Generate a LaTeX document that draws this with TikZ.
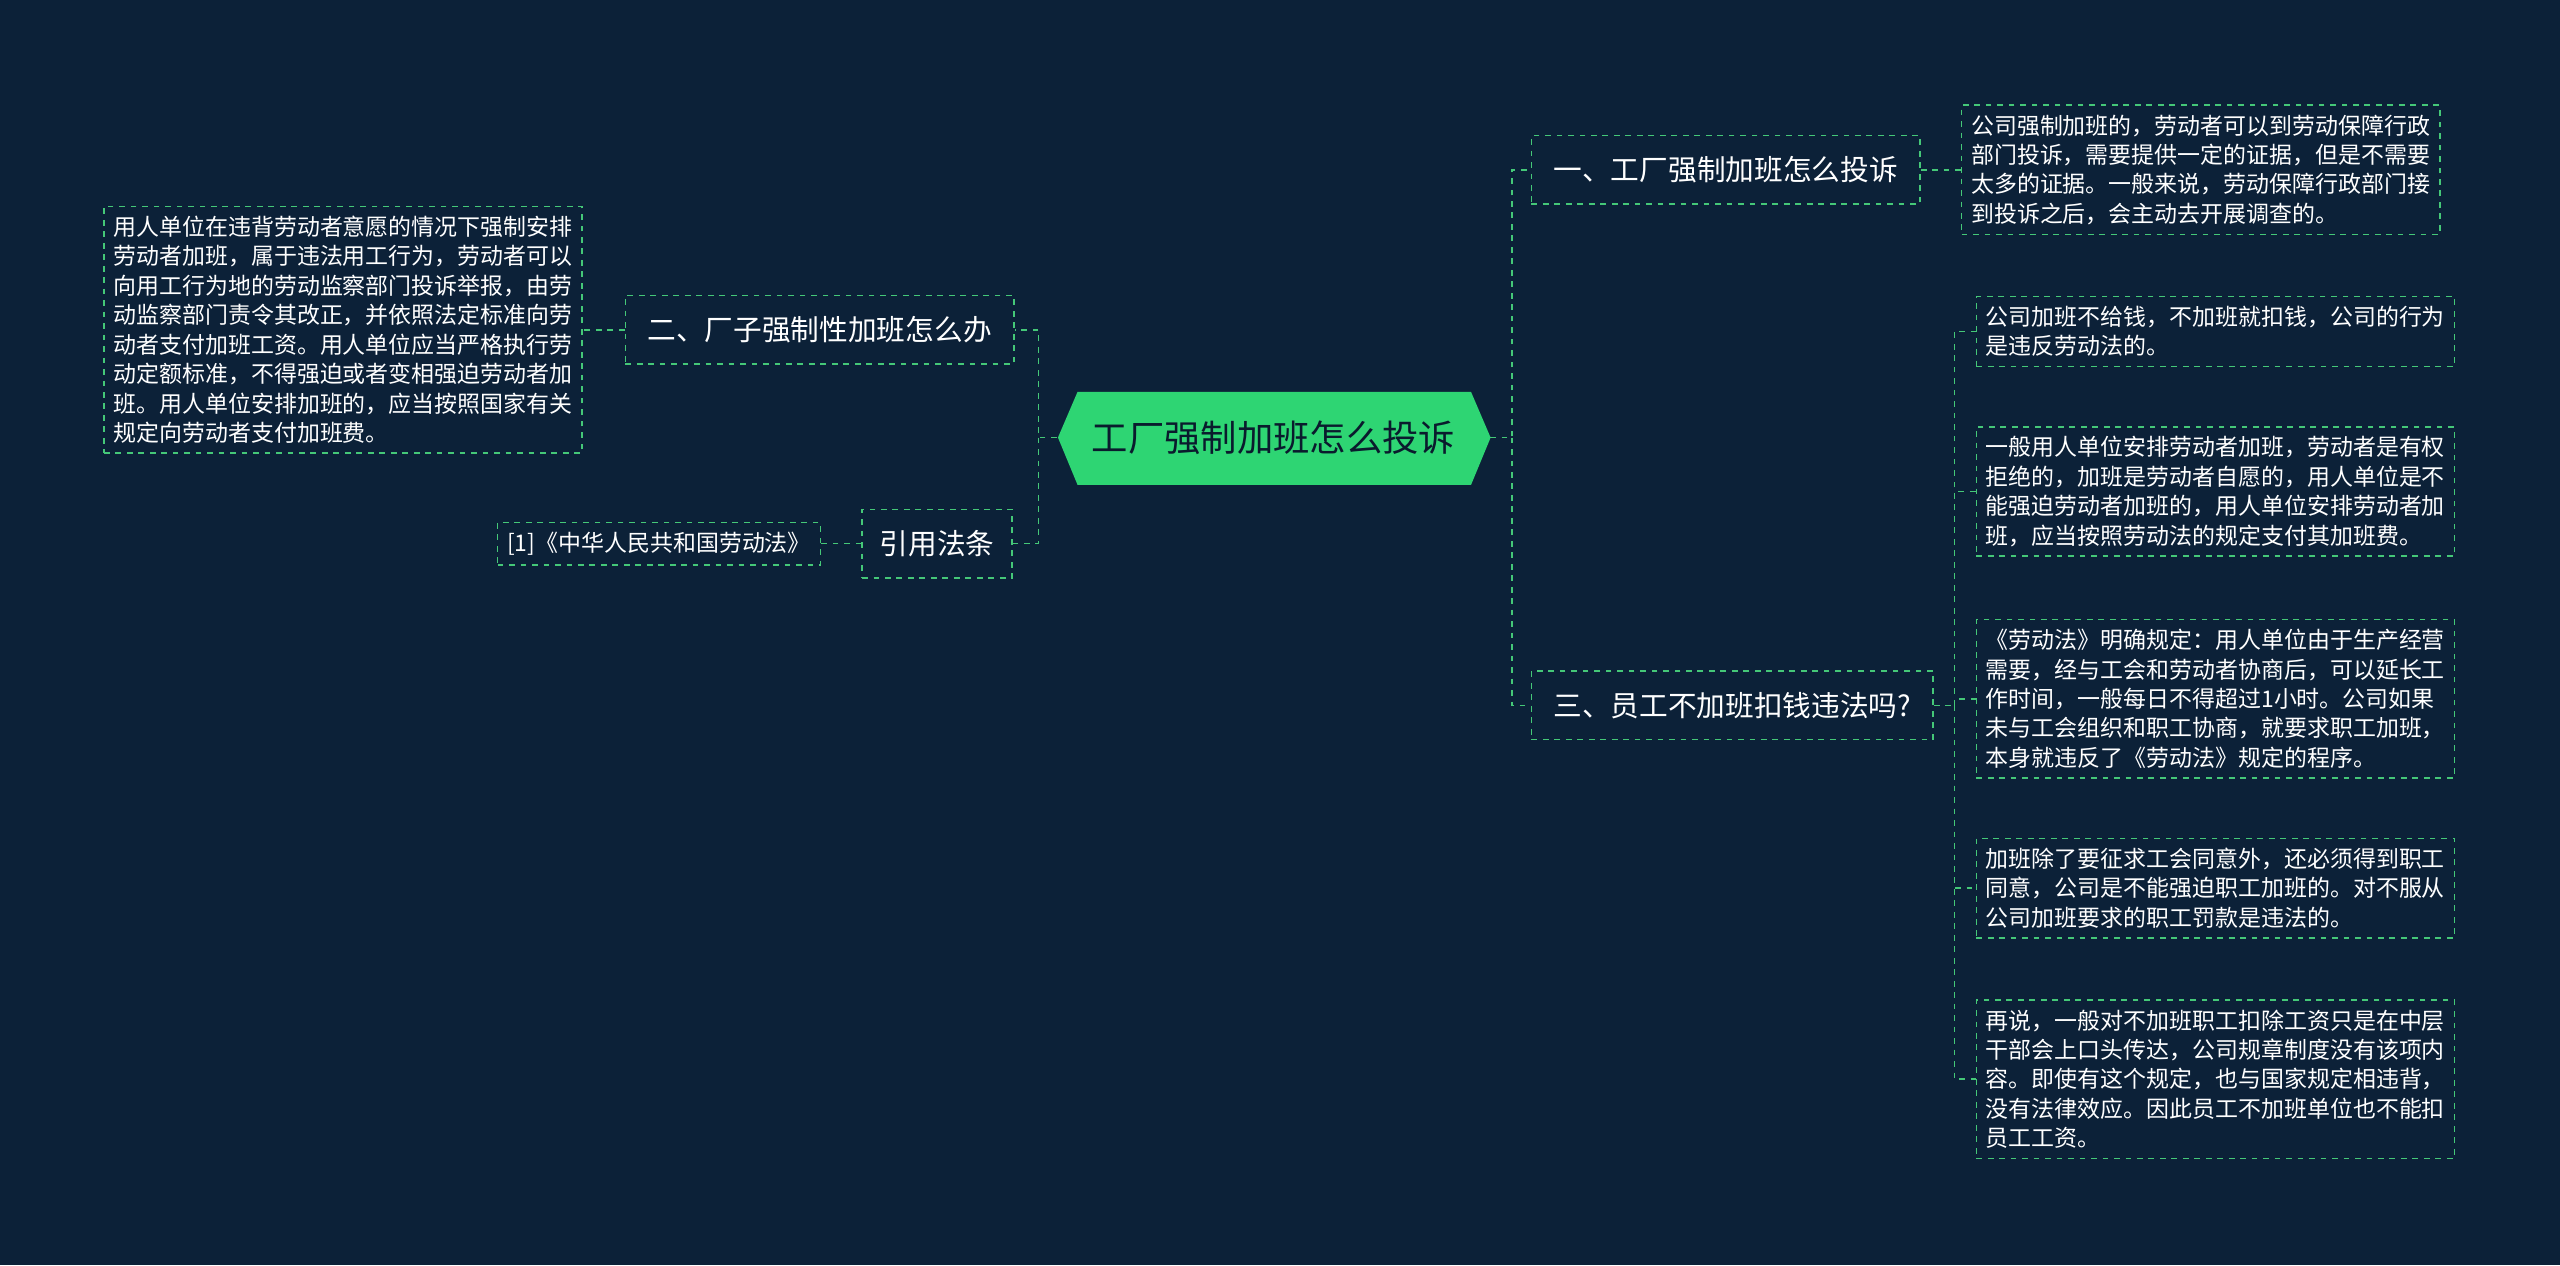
\documentclass[tikz,border=0pt]{standalone}
\usepackage{fontspec}
\newfontfamily\cjk{Noto Sans CJK SC}
\usetikzlibrary{calc}
\definecolor{bg}{HTML}{0C2138}
\definecolor{ln}{HTML}{45C878}
\definecolor{hub}{HTML}{2ED573}
\tikzset{
 x=0.03cm,y=-0.03cm,
 br/.style={draw=ln,dashed,line width=0.8pt,text=white,font=\cjk\fontsize{15}{18}\selectfont,inner sep=0pt,minimum height=1.26cm,align=center},
 dt/.style={draw=ln,dashed,line width=0.8pt,text=white,font=\cjk\fontsize{12}{15.4}\selectfont,inner xsep=5pt,inner ysep=5pt,align=left,anchor=west},
 cn/.style={draw=ln,dashed,line width=0.8pt},
}
\begin{document}
\begin{tikzpicture}
\fill[bg] (0,0) rectangle (1568,775);
\useasboundingbox (0,0) rectangle (1568,775);
% hub
\fill[hub] (648,268)--(660,240)--(901,240)--(913,268)--(901,297)--(660,297)--cycle;
\node[font=\cjk\fontsize{19}{22}\selectfont,text=bg!80!black,minimum width=265*0.03cm,minimum height=57*0.03cm] (c) at (780,268) {工厂强制加班怎么投诉};
% branches
\node[br,minimum width=238*0.03cm] (b1) at (1057,104) {一、工厂强制加班怎么投诉};
\node[br,minimum width=246*0.03cm] (b3) at (1061,432) {三、员工不加班扣钱违法吗?};
\node[br,minimum width=238*0.03cm] (b2) at (502,202) {二、厂子强制性加班怎么办};
\node[br,minimum width=92*0.03cm] (b4) at (574,333) {引用法条};
% details
\node[dt] (d1) at (1201,104) {公司强制加班的，劳动者可以到劳动保障行政\\部门投诉，需要提供一定的证据，但是不需要\\太多的证据。一般来说，劳动保障行政部门接\\到投诉之后，会主动去开展调查的。};
\node[dt] (d3a) at (1210,203) {公司加班不给钱，不加班就扣钱，公司的行为\\是违反劳动法的。};
\node[dt] (d3b) at (1210,301) {一般用人单位安排劳动者加班，劳动者是有权\\拒绝的，加班是劳动者自愿的，用人单位是不\\能强迫劳动者加班的，用人单位安排劳动者加\\班，应当按照劳动法的规定支付其加班费。};
\node[dt] (d3c) at (1210,428) {《劳动法》明确规定：用人单位由于生产经营\\需要，经与工会和劳动者协商后，可以延长工\\作时间，一般每日不得超过1小时。公司如果\\未与工会组织和职工协商，就要求职工加班，\\本身就违反了《劳动法》规定的程序。};
\node[dt] (d3d) at (1210,544) {加班除了要征求工会同意外，还必须得到职工\\同意，公司是不能强迫职工加班的。对不服从\\公司加班要求的职工罚款是违法的。};
\node[dt] (d3e) at (1210,661) {再说，一般对不加班职工扣除工资只是在中层\\干部会上口头传达，公司规章制度没有该项内\\容。即使有这个规定，也与国家规定相违背，\\没有法律效应。因此员工不加班单位也不能扣\\员工工资。};
\node[dt,anchor=east] (d2) at (357,202) {用人单位在违背劳动者意愿的情况下强制安排\\劳动者加班，属于违法用工行为，劳动者可以\\向用工行为地的劳动监察部门投诉举报，由劳\\动监察部门责令其改正，并依照法定标准向劳\\动者支付加班工资。用人单位应当严格执行劳\\动定额标准，不得强迫或者变相强迫劳动者加\\班。用人单位安排加班的，应当按照国家有关\\规定向劳动者支付加班费。};
\node[dt,anchor=east] (d4) at (503,333) {[1]《中华人民共和国劳动法》};
% connectors
\draw[cn] (c.east) -- (926,268) |- (b1.west);
\draw[cn] (926,268) |- (b3.west);
\draw[cn] (c.west) -- (636,268) |- (b2.east);
\draw[cn] (636,268) |- (b4.east);
\draw[cn] (b1.east) -- (d1.west);
\draw[cn] (b2.west) -- (d2.east);
\draw[cn] (b4.west) -- (d4.east);
\draw[cn] (b3.east) -- (1197,432);
\foreach \d in {d3a,d3b,d3c,d3d,d3e} \draw[cn] (1197,432) |- (\d.west);
\end{tikzpicture}
\end{document}
